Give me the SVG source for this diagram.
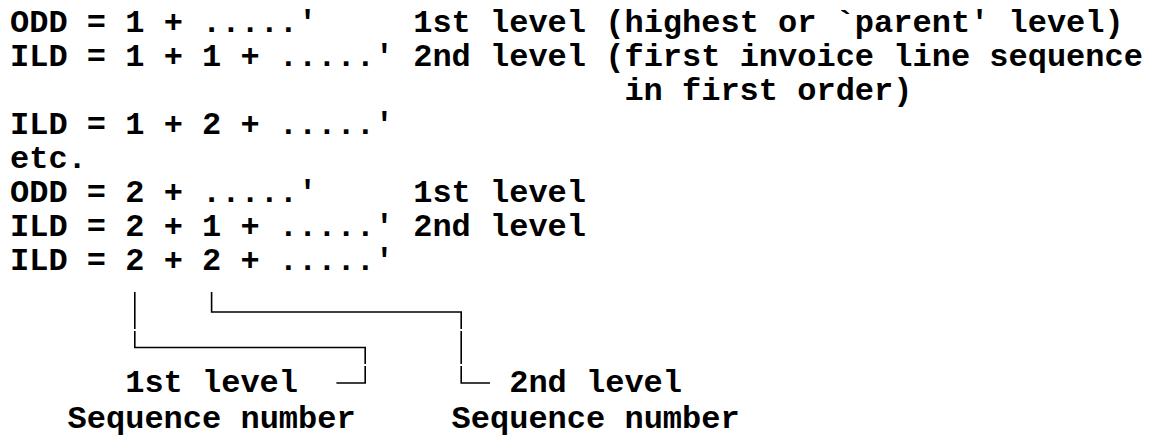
<svg xmlns="http://www.w3.org/2000/svg" width="1151" height="438" viewBox="0 0 1151 438">
<style>
text{font-family:"Liberation Mono","Courier New",monospace;font-weight:bold;font-size:32px;fill:#000;white-space:pre}
.cn{fill:none;stroke:#000;stroke-width:1.6}
</style>
<rect width="1151" height="438" fill="#fff"/>
<g id="odd1"><text x="10" y="32">ODD = 1 + .....'</text><text x="413.2" y="32">1st level (highest or `parent' level)</text></g>
<g id="ild11"><text x="10" y="66">ILD = 1 + 1 + .....'</text><text x="413.2" y="66">2nd level (first invoice line sequence</text><text x="624.4" y="100">in first order)</text></g>
<g id="ild12"><text x="10" y="134">ILD = 1 + 2 + .....'</text></g>
<g id="etc"><text x="10" y="168">etc.</text></g>
<g id="odd2"><text x="10" y="202">ODD = 2 + .....'</text><text x="413.2" y="202">1st level</text></g>
<g id="ild21"><text x="10" y="236">ILD = 2 + 1 + .....'</text><text x="413.2" y="236">2nd level</text></g>
<g id="ild22"><text x="10" y="270">ILD = 2 + 2 + .....'</text></g>
<g id="lvl1"><text x="125.2" y="391.6">1st level</text><text x="67.6" y="428.2">Sequence number</text></g>
<g id="lvl2"><text x="509.2" y="391.6">2nd level</text><text x="451.6" y="428.2">Sequence number</text></g>
<g id="connectors">
<path class="cn" d="M134.8 292V329M134.8 331V347.5H365.2V364M365.2 366V383H336.4"/>
<path class="cn" d="M211.6 292V312H461.2V329M461.2 331V364M461.2 366V383H490"/>
</g>
</svg>
